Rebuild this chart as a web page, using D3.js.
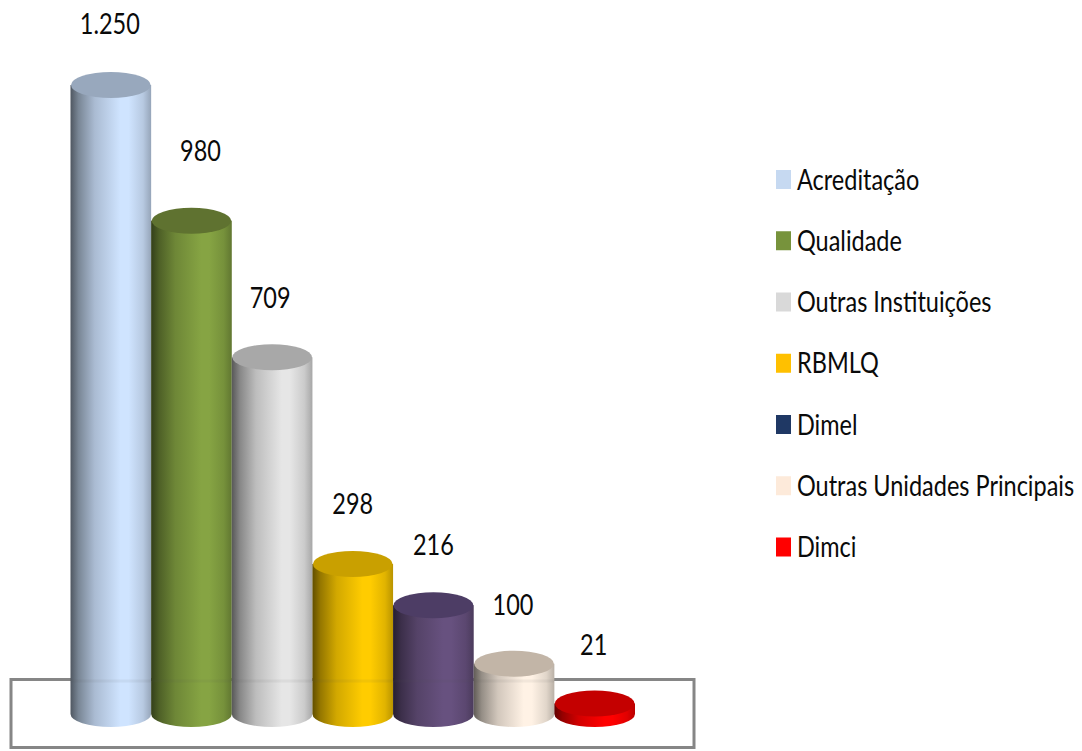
<!DOCTYPE html>
<html><head><meta charset="utf-8">
<script src="https://cdn.jsdelivr.net/npm/d3@7/dist/d3.min.js"></script>
<style>html,body{margin:0;padding:0;background:#fff}svg{display:block}text{font-family:Lato,"Noto Sans",sans-serif;fill:#0a0a0a}</style>
</head><body><svg id="c" width="1082" height="751"></svg>
<script>
const categories = ["Acreditação","Qualidade","Outras Instituições","RBMLQ","Dimel","Outras Unidades Principais","Dimci"];
const values = [1250,980,709,298,216,100,21];
const valueLabels = ["1.250","980","709","298","216","100","21"];
const legendColors = ["#c6d9f1","#77933c","#d9d9d9","#ffc000","#1f3864","#fdeada","#ff0000"];
const bodyBright = ["#cfe4ff","#86a443","#e6e6e6","#ffcc00","#67517f","#fff2e5","#ff0000"];
const topColors = ["#98a8bd","#5f7230","#a8a8a8","#c9a000","#4d3d65","#c2b5a7","#c40000"];

const svg = d3.select("#c");
const x = d3.scaleBand().domain(categories).range([70.5,635]).padding(0);
const y = d3.scaleLinear().domain([0,1250]).range([714,85]);
const ry = 13;

// frame behind the cylinders
svg.append("rect").attr("x",11).attr("y",679.5).attr("width",683).attr("height",68)
  .attr("fill","none").attr("stroke","#868686").attr("stroke-width",3);

const defs = svg.append("defs");
categories.forEach((c,i)=>{
  const b = d3.color(bodyBright[i]);
  const g = defs.append("linearGradient").attr("id","g"+i).attr("x1",0).attr("x2",1).attr("y1",0).attr("y2",0);
  [[0,b.darker(2.7)],[0.1,b.darker(1.5)],[0.3,b.darker(0.55)],[0.62,b],[0.72,b],[0.9,b.darker(0.35)],[1,b.darker(0.9)]]
    .forEach(([o,col])=>g.append("stop").attr("offset",o).attr("stop-color",col));
});

const bars = svg.append("g").selectAll("g").data(categories).join("g");
bars.each(function(c,i){
  const g = d3.select(this);
  const l = x(c), r = l + x.bandwidth(), rx = x.bandwidth()/2, yt = y(values[i]), yb = y(0);
  g.append("path")
    .attr("d",`M${l},${yt}L${l},${yb}A${rx},${ry} 0 0 0 ${r},${yb}L${r},${yt}Z`)
    .attr("fill",`url(#g${i})`);
  g.append("ellipse").attr("cx",l+rx).attr("cy",yt).attr("rx",rx-0.5).attr("ry",ry).attr("fill",topColors[i]);
});

// frame showing faintly through the bars
svg.append("line").attr("x1",x(categories[0])).attr("x2",x(categories[5])+x.bandwidth())
  .attr("y1",681).attr("y2",681).attr("stroke","#555").attr("stroke-width",3).attr("opacity",0.07);

// value labels
const labelDx = [-1,9,-2,0,0,-1,-1];
const labelDy = [-61,-70,-59,-60,-60,-59,-58];
svg.append("g").selectAll("text").data(categories).join("text")
  .attr("transform",(c,i)=>`translate(${x(c)+x.bandwidth()/2+labelDx[i]},${y(values[i])+labelDy[i]+10}) scale(0.81,1)`)
  .attr("text-anchor","middle").attr("font-size",29).text((c,i)=>valueLabels[i]);

// legend
const ly = d3.scalePoint().domain(categories).range([179.5,547]);
const lg = svg.append("g").selectAll("g").data(categories).join("g")
  .attr("transform",c=>`translate(776,${ly(c)})`);
lg.append("rect").attr("x",0).attr("y",-9.5).attr("width",15).attr("height",19).attr("fill",(c,i)=>legendColors[i]);
lg.append("text").attr("transform","translate(21,10) scale(0.81,1)").attr("font-size",29).text(c=>c);
</script></body></html>
